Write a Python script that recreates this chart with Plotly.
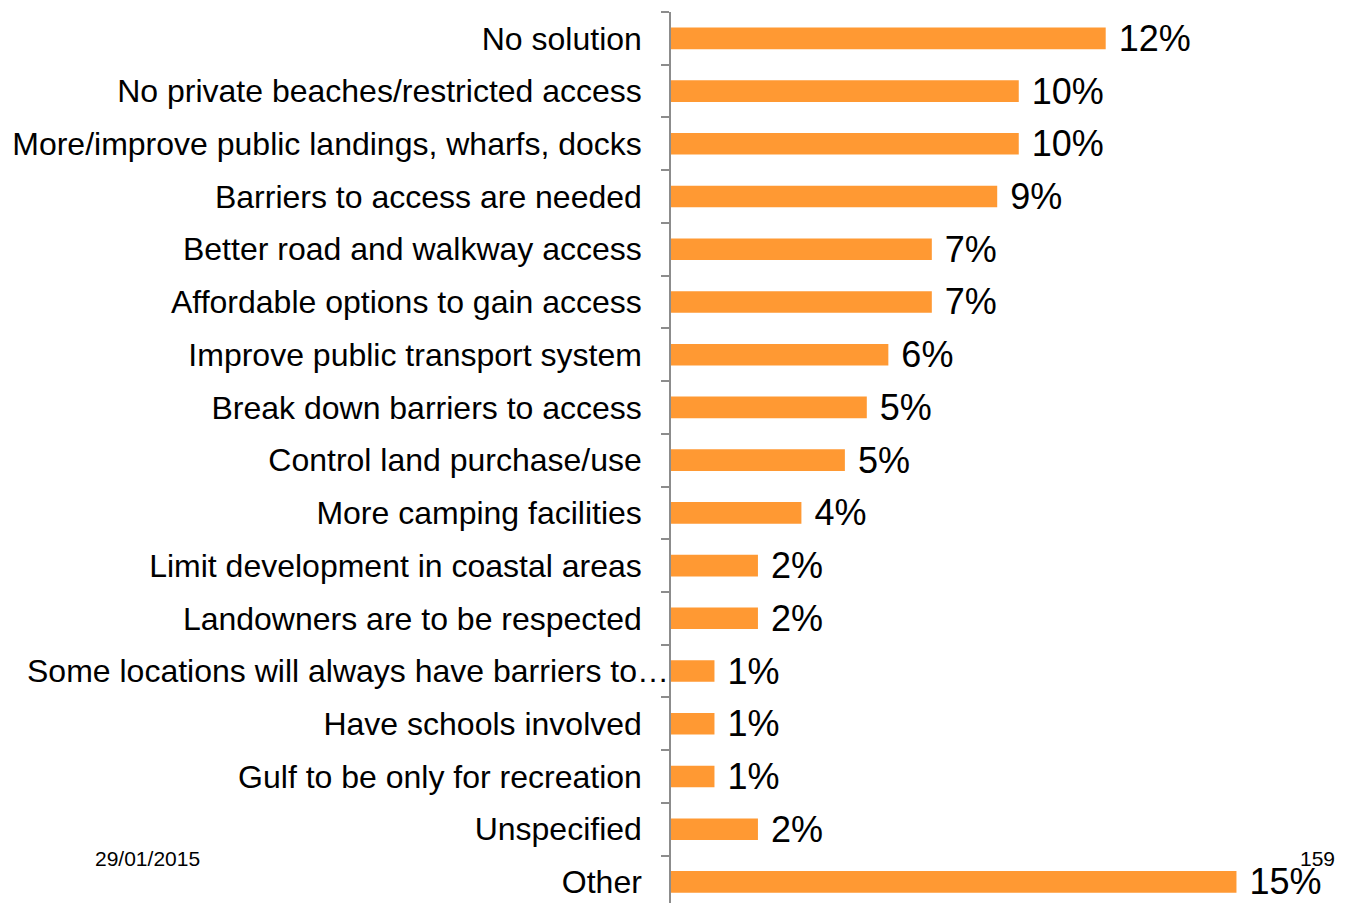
import plotly.graph_objects as go

# Categories top to bottom
categories = [
    "No solution",
    "No private beaches/restricted access",
    "More/improve public landings, wharfs, docks",
    "Barriers to access are needed",
    "Better road and walkway access",
    "Affordable options to gain access",
    "Improve public transport system",
    "Break down barriers to access",
    "Control land purchase/use",
    "More camping facilities",
    "Limit development in coastal areas",
    "Landowners are to be respected",
    "Some locations will always have barriers to\u2026",
    "Have schools involved",
    "Gulf to be only for recreation",
    "Unspecified",
    "Other",
]
# Share of responses (%)
shares = [11.90, 9.52, 9.52, 8.93, 7.14, 7.14, 5.95, 5.36, 4.76, 3.57,
          2.38, 2.38, 1.19, 1.19, 1.19, 2.38, 15.48]

date_text = "29/01/2015"
page_no = "159"

# the long truncated label is drawn separately so it is not clipped
long_label = categories[12]
tick_text = [c if c != long_label else "" for c in categories]

FONT = "Liberation Sans, Arial"

fig = go.Figure()
fig.add_trace(go.Bar(
    y=categories,
    x=shares,
    orientation="h",
    marker=dict(color="#FF9933", line=dict(width=0)),
    texttemplate=" %{x:.0f}%",
    textposition="outside",
    constraintext="none",
    textfont=dict(family=FONT, size=36, color="black"),
    cliponaxis=False,
))

# body of the page has an 8px margin, so margins are shifted to compensate
fig.update_layout(
    width=1353,
    height=903,
    margin=dict(l=655, r=8, t=4, b=8),
    plot_bgcolor="white",
    paper_bgcolor="white",
    bargap=0.59,
    showlegend=False,
    font=dict(family=FONT, color="black"),
    xaxis=dict(range=[0, 18.67], visible=False, fixedrange=True),
    yaxis=dict(
        type="category",
        categoryarray=categories,
        range=[16.4, -0.5],
        tickvals=categories,
        ticktext=tick_text,
        tickson="boundaries",
        ticks="outside",
        ticklen=8,
        tickwidth=1.5,
        tickcolor="#8C8C8C",
        showline=True,
        linecolor="#8C8C8C",
        linewidth=1.5,
        showgrid=False,
        ticklabelstandoff=21,
        tickfont=dict(family=FONT, size=32, color="black"),
    ),
    annotations=[
        dict(text=long_label, xref="paper", yref="y", x=0, y=long_label,
             xanchor="right", yanchor="middle", showarrow=False,
             font=dict(family=FONT, size=32, color="black")),
        dict(text=date_text, xref="paper", yref="paper", x=-0.848, y=0.0494,
             xanchor="left", yanchor="middle", showarrow=False,
             font=dict(family=FONT, size=21, color="black")),
        dict(text=page_no, xref="paper", yref="paper", x=0.977, y=0.0494,
             xanchor="right", yanchor="middle", showarrow=False,
             font=dict(family=FONT, size=21, color="black")),
    ],
)

fig.write_html("out.html")
